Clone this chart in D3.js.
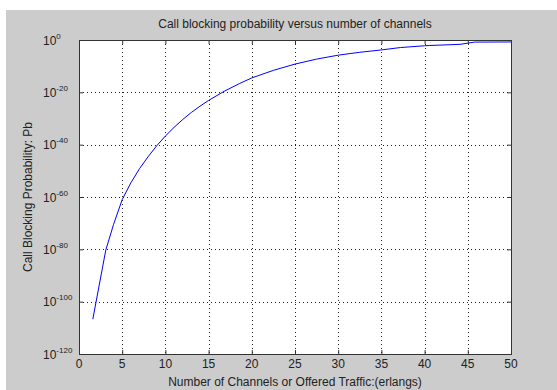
<!DOCTYPE html>
<html>
<head>
<meta charset="utf-8">
<script src="https://cdn.jsdelivr.net/npm/d3@7"></script>
<style>
  body { margin: 0; background: #fff; }
  svg { display: block; font-family: "Liberation Sans", Arial, sans-serif; }
</style>
</head>
<body>
<div id="chart"></div>
<script>
// number of channels / offered traffic (x)
var traffic = [1.6, 3.1, 4, 5, 6, 7, 8, 9, 10, 11, 12, 13, 14, 15, 16.8, 18.6, 20, 22.5, 25, 27.5,
  30, 32.5, 35, 37.2, 40, 40.6, 44.1, 45.8, 50];
// call blocking probability Pb (y, log scale)
var blocking = [2.0e-107, 5.0e-81, 3.2e-71, 1.0e-61, 2.5e-55, 6.3e-50, 2.5e-45, 4.0e-41, 2.0e-37,
  4.0e-34, 4.0e-31, 2.0e-28, 5.0e-26, 7.9e-24, 2.5e-20, 2.5e-17, 3.2e-15, 2.5e-12, 6.3e-10, 5.0e-8,
  1.6e-6, 2.0e-5, 1.6e-4, 1.3e-3, 6.3e-3, 8.0e-3, 2.2e-2, 0.16, 0.18];
var xTicks = [0, 5, 10, 15, 20, 25, 30, 35, 40, 45, 50];
var yTickExps = [0, -20, -40, -60, -80, -100, -120];

var title = 'Call blocking probability versus number of channels';
var xTitle = 'Number of Channels or Offered Traffic:(erlangs)';
var yTitle = 'Call Blocking Probability: Pb';

var W = 557, H = 390;
var m = { left: 79, top: 40, right: 511, bottom: 354 };
var w = m.right - m.left, h = m.bottom - m.top;

var svg = d3.select('#chart').append('svg').attr('width', W).attr('height', H);

// grey figure background
svg.append('rect').attr('x', 6).attr('y', 10).attr('width', W - 6).attr('height', H - 10)
  .attr('fill', '#cccccc');

var g = svg.append('g').attr('transform', 'translate(' + m.left + ',' + m.top + ')');
g.append('rect').attr('width', w).attr('height', h).attr('fill', '#fff');

var x = d3.scaleLinear().domain([0, 50]).range([0, w]);
var y = d3.scaleLog().domain([1e-120, 1]).range([h, 0]);
var yTicks = yTickExps.map(function(e) { return Math.pow(10, e); });

// dotted grid
g.selectAll('line.vgrid').data(xTicks.slice(1, -1)).enter().append('line')
  .attr('class', 'vgrid')
  .attr('x1', function(d) { return Math.round(x(d)) + 0.5; })
  .attr('x2', function(d) { return Math.round(x(d)) + 0.5; })
  .attr('y1', 0).attr('y2', h)
  .attr('stroke', '#222').attr('stroke-dasharray', '1,3');
g.selectAll('line.hgrid').data(yTicks.slice(1, -1)).enter().append('line')
  .attr('class', 'hgrid')
  .attr('y1', function(d) { return Math.round(y(d)) + 0.5; })
  .attr('y2', function(d) { return Math.round(y(d)) + 0.5; })
  .attr('x1', 0).attr('x2', w)
  .attr('stroke', '#222').attr('stroke-dasharray', '1,3');

// curve
var line = d3.line()
  .x(function(d, i) { return x(traffic[i]); })
  .y(function(d) { return y(d); });
g.append('path').datum(blocking)
  .attr('d', line)
  .attr('fill', 'none')
  .attr('stroke', '#0000ff')
  .attr('stroke-width', 1);

// inward ticks on all four sides
function styleAxis(sel) {
  sel.select('.domain').remove();
  sel.selectAll('.tick line').attr('stroke', '#333');
  sel.selectAll('.tick text').remove();
}
g.append('g').attr('transform', 'translate(0,' + h + ')')
  .call(d3.axisBottom(x).tickValues(xTicks).tickSize(-4)).call(styleAxis);
g.append('g')
  .call(d3.axisTop(x).tickValues(xTicks).tickSize(-4)).call(styleAxis);
g.append('g')
  .call(d3.axisLeft(y).tickValues(yTicks).tickSize(-4)).call(styleAxis);
g.append('g').attr('transform', 'translate(' + w + ',0)')
  .call(d3.axisRight(y).tickValues(yTicks).tickSize(-4)).call(styleAxis);

// box
g.append('rect').attr('x', 0.5).attr('y', 0.5).attr('width', w).attr('height', h)
  .attr('fill', 'none').attr('stroke', '#333');

// x tick labels
g.selectAll('text.xlab').data(xTicks).enter().append('text')
  .attr('class', 'xlab')
  .attr('x', function(d) { return x(d); })
  .attr('y', h + 14)
  .attr('text-anchor', 'middle')
  .attr('font-size', 12)
  .attr('fill', '#222')
  .text(function(d) { return d; });

// y tick labels 10^e
var yl = svg.selectAll('text.ylab').data(yTickExps).enter().append('text')
  .attr('class', 'ylab')
  .attr('x', 43)
  .attr('y', function(e) { return m.top + y(Math.pow(10, e)) + 4.5; })
  .attr('font-size', 12)
  .attr('fill', '#222');
yl.append('tspan').text('10');
yl.append('tspan').attr('dy', -6).attr('font-size', 8).text(function(e) { return e; });

// titles
svg.append('text').attr('x', m.left + w / 2).attr('y', 28)
  .attr('text-anchor', 'middle').attr('font-size', 12).attr('fill', '#222')
  .text(title);
svg.append('text').attr('x', m.left + w / 2).attr('y', 386)
  .attr('text-anchor', 'middle').attr('font-size', 12).attr('fill', '#222')
  .text(xTitle);
svg.append('text')
  .attr('transform', 'translate(32,' + (m.top + h / 2) + ') rotate(-90)')
  .attr('text-anchor', 'middle').attr('font-size', 12).attr('fill', '#222')
  .text(yTitle);
</script>
</body>
</html>
